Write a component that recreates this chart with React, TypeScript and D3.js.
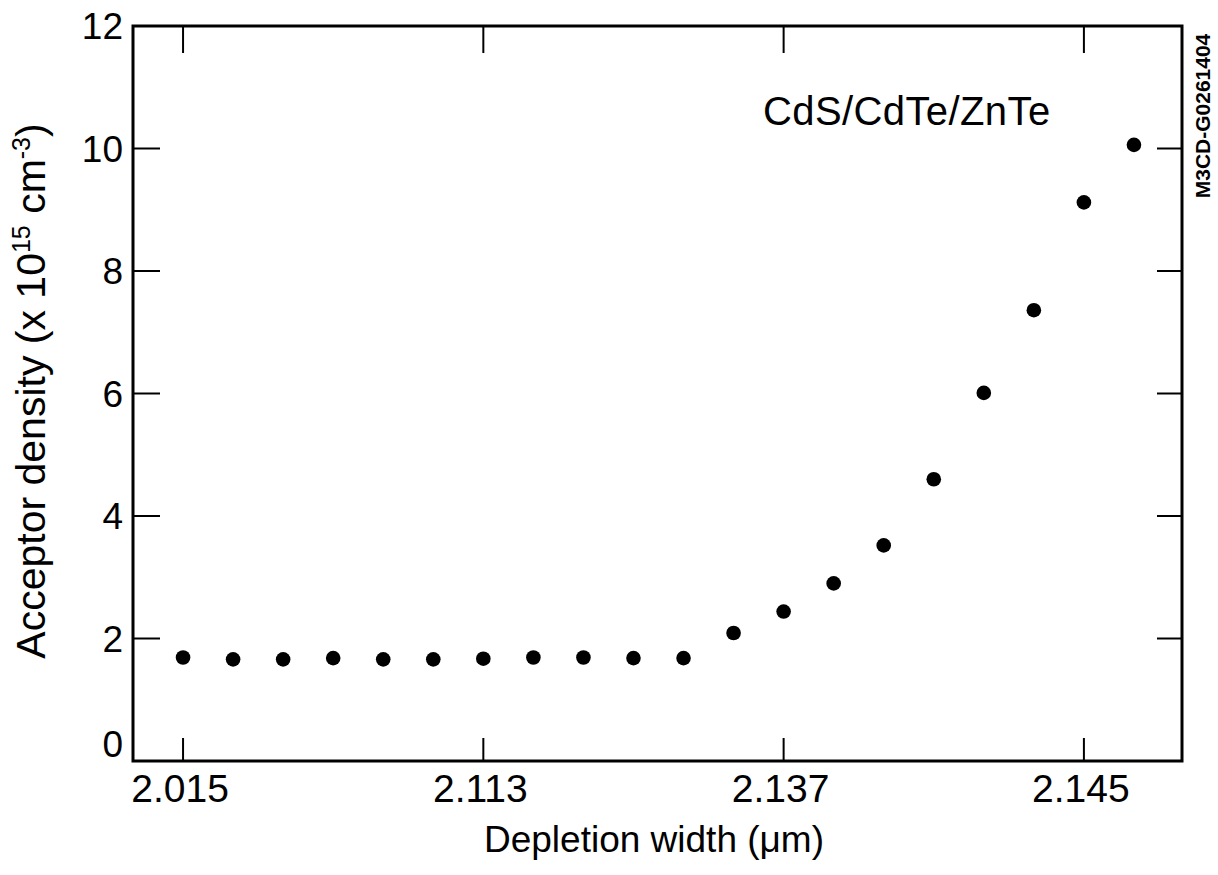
import React, { useEffect, useRef } from "react";
import * as d3 from "d3";

// point index along the depletion-width axis (evenly spaced measurements)
const pointIndex = [0, 1, 2, 3, 4, 5, 6, 7, 8, 9, 10, 11, 12, 13, 14, 15, 16, 17, 18, 19];
// acceptor density, x 10^15 cm^-3
const density = [
  1.69, 1.66, 1.66, 1.68, 1.66, 1.66, 1.67, 1.69, 1.69, 1.68,
  1.68, 2.09, 2.44, 2.9, 3.52, 4.6, 6.01, 7.36, 9.12, 10.06,
];
const xTickIndex = [0, 6, 12, 18];
const xTickLabels = ["2.015", "2.113", "2.137", "2.145"];
const yTicks = [0, 2, 4, 6, 8, 10, 12];

const FONT = "'Liberation Sans', Arial, Helvetica, sans-serif";

export default function App() {
  const ref = useRef<SVGSVGElement | null>(null);

  useEffect(() => {
    const el = ref.current;
    if (!el) return;
    const svg = d3.select(el);
    svg.selectAll("*").remove();

    const L = 133, R = 1182, T = 26, B = 761;

    const x = d3.scaleLinear().domain([-1, 19.96]).range([L, R]);
    const y = d3.scaleLinear().domain([0, 12]).range([B, T]);

    const g = svg.append("g").attr("font-family", FONT).attr("fill", "#000");

    // frame
    g.append("rect")
      .attr("x", L).attr("y", T)
      .attr("width", R - L).attr("height", B - T)
      .attr("fill", "none").attr("stroke", "#000").attr("stroke-width", 3);

    // x ticks (bottom + top, inward)
    xTickIndex.forEach((i, k) => {
      const xp = x(i);
      g.append("line").attr("x1", xp).attr("x2", xp).attr("y1", B).attr("y2", B - 23)
        .attr("stroke", "#000").attr("stroke-width", 2);
      g.append("line").attr("x1", xp).attr("x2", xp).attr("y1", T).attr("y2", T + 27)
        .attr("stroke", "#000").attr("stroke-width", 2);
      g.append("text").attr("x", xp - 3).attr("y", 802)
        .attr("text-anchor", "middle").attr("font-size", 39)
        .text(xTickLabels[k]);
    });

    // y ticks
    yTicks.forEach((v) => {
      const yp = y(v);
      if (v > 0 && v < 12) {
        g.append("line").attr("x1", L).attr("x2", L + 27).attr("y1", yp).attr("y2", yp)
          .attr("stroke", "#000").attr("stroke-width", 2);
        g.append("line").attr("x1", R).attr("x2", R - 25).attr("y1", yp).attr("y2", yp)
          .attr("stroke", "#000").attr("stroke-width", 2);
      }
      g.append("text").attr("x", 123).attr("y", yp + 13 - (v === 0 ? 17 : 0))
        .attr("text-anchor", "end").attr("font-size", 37)
        .text(String(v));
    });

    // points
    g.append("g").selectAll("circle")
      .data(pointIndex)
      .join("circle")
      .attr("cx", (i) => x(i))
      .attr("cy", (i) => y(density[i]))
      .attr("r", 7.3)
      .attr("fill", "#000");

    // annotation
    g.append("text").attr("x", 763).attr("y", 125)
      .attr("font-size", 40).attr("letter-spacing", 0.4)
      .text("CdS/CdTe/ZnTe");

    // x title
    g.append("text").attr("x", 654).attr("y", 852)
      .attr("text-anchor", "middle").attr("font-size", 37)
      .text("Depletion width (\u03bcm)");

    // y title
    const yt = g.append("text")
      .attr("transform", "translate(45,391) rotate(-90)")
      .attr("text-anchor", "middle").attr("font-size", 41);
    yt.append("tspan").text("Acceptor density (x 10");
    yt.append("tspan").attr("dy", -15).attr("font-size", 25).text("15");
    yt.append("tspan").attr("dy", 15).text(" cm");
    yt.append("tspan").attr("dy", -15).attr("font-size", 25).text("-3");
    yt.append("tspan").attr("dy", 15).text(")");

    // figure id
    g.append("text")
      .attr("transform", "translate(1210,116) rotate(-90)")
      .attr("text-anchor", "middle").attr("font-size", 21).attr("font-weight", "bold")
      .text("M3CD-G0261404");
  }, []);

  return (
    <svg
      ref={ref}
      width={1218}
      height={875}
      style={{ position: "absolute", left: 0, top: 0, background: "#fff" }}
    />
  );
}
